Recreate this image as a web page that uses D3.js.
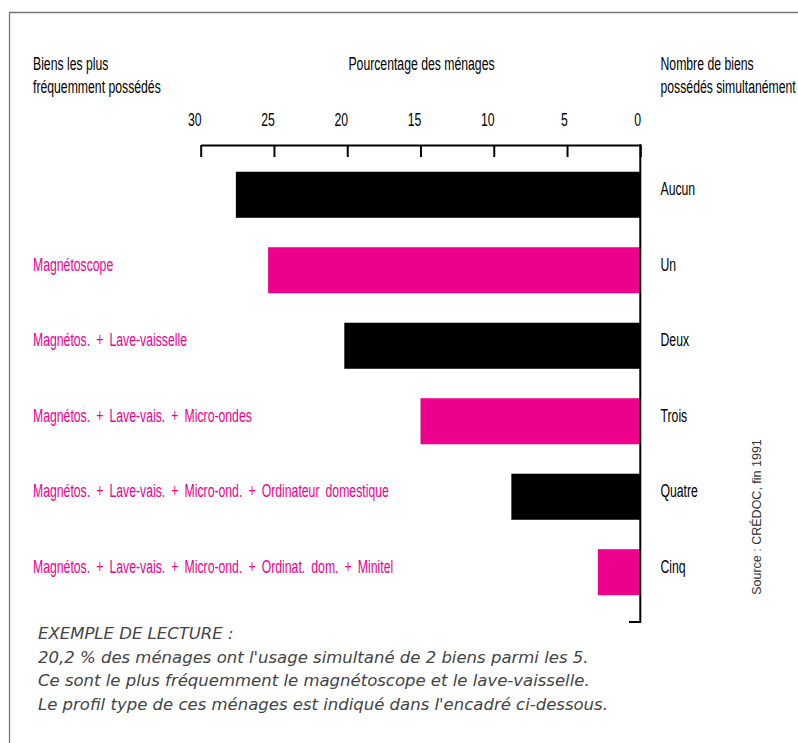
<!DOCTYPE html>
<html lang="fr">
<head>
<meta charset="utf-8">
<script src="https://cdn.jsdelivr.net/npm/d3@7"></script>
<style>
  html, body { margin: 0; padding: 0; background: #fff; }
  svg { display: block; }
  .cond { font-family: "Liberation Sans", Arial, sans-serif; font-size: 18px; }
  .goods { word-spacing: 4px; }
</style>
</head>
<body>
<svg id="chart" width="798" height="743"></svg>
<script>
// Nombre de biens possédés simultanément (parmi les 5)
const counts = ["Aucun", "Un", "Deux", "Trois", "Quatre", "Cinq"];
// Pourcentage des ménages
const shares = [27.6, 25.4, 20.2, 15.0, 8.8, 2.9];
// Biens les plus fréquemment possédés pour chaque nombre
const goods = [
  "",
  "Magnétoscope",
  "Magnétos. + Lave-vaisselle",
  "Magnétos. + Lave-vais. + Micro-ondes",
  "Magnétos. + Lave-vais. + Micro-ond. + Ordinateur domestique",
  "Magnétos. + Lave-vais. + Micro-ond. + Ordinat. dom. + Minitel"
];
const tickValues = [0, 5, 10, 15, 20, 25, 30];
const noteLines = [
  "EXEMPLE DE LECTURE :",
  "20,2 % des ménages ont l'usage simultané de 2 biens parmi les 5.",
  "Ce sont le plus fréquemment le magnétoscope et le lave-vaisselle.",
  "Le profil type de ces ménages est indiqué dans l'encadré ci-dessous."
];
const sourceText = "Source : CRÉDOC, fin 1991";

const PINK = "#ec008c";
const CONDENSE = 0.68;   // horizontal squeeze giving a condensed face

const svg = d3.select("#chart");

// frame (top and left rules)
svg.append("path")
  .attr("d", "M9.5,743 V12.5 H798")
  .attr("fill", "none")
  .attr("stroke", "#777")
  .attr("stroke-width", 1.3);

const x = d3.scaleLinear().domain([0, 30]).range([640.3, 200.7]);
const y = d3.scaleBand().domain(counts).range([134, 633])
  .paddingInner(0.39).paddingOuter(0.5);

// condensed text helper
function cText(parent, px, py, str, anchor, fill) {
  return parent.append("text")
    .attr("class", "cond")
    .attr("transform", `translate(${px},${py}) scale(${CONDENSE},1)`)
    .attr("text-anchor", anchor || "start")
    .attr("fill", fill || "#000")
    .text(str);
}

// headers
const head = svg.append("g");
cText(head, 33, 69.5, "Biens les plus");
cText(head, 33, 92.5, "fréquemment possédés");
cText(head, 421.5, 69.5, "Pourcentage des ménages", "middle");
cText(head, 660.5, 69.5, "Nombre de biens");
cText(head, 660.5, 92.5, "possédés simultanément");

// bars
svg.append("g").selectAll("rect")
  .data(counts)
  .join("rect")
  .attr("x", (d, i) => x(shares[i]))
  .attr("y", d => y(d))
  .attr("width", (d, i) => x(0) - x(shares[i]))
  .attr("height", y.bandwidth())
  .attr("fill", (d, i) => i % 2 ? PINK : "#000");

// top axis: ticks hang below the rule, labels right-aligned on the tick
const axis = d3.axisTop(x)
  .tickValues(tickValues)
  .tickSizeInner(-12)
  .tickSizeOuter(0)
  .tickPadding(19)
  .tickFormat(d3.format("d"));

const gAxis = svg.append("g")
  .attr("transform", "translate(0,145)")
  .call(axis);
gAxis.select(".domain").attr("stroke", "#000").attr("stroke-width", 2);
gAxis.selectAll(".tick line").attr("stroke", "#000").attr("stroke-width", 2);
gAxis.selectAll(".tick text")
  .attr("class", "cond")
  .attr("fill", "#000")
  .attr("text-anchor", "end")
  .attr("x", 0.5)
  .attr("transform", `scale(${CONDENSE},1)`);

// zero rule running down past the bars
svg.append("path")
  .attr("d", `M${x(0)},144 V622 H629`)
  .attr("fill", "none")
  .attr("stroke", "#000")
  .attr("stroke-width", 2);

// labels for each count: goods on the left, count on the right
const rows = svg.append("g");
counts.forEach((c, i) => {
  const cy = y(c) + y.bandwidth() / 2 + 0.5;
  cText(rows, 660.5, cy, c);
  if (goods[i]) cText(rows, 33, cy, goods[i], "start", PINK).classed("goods", true);
});

// source, rotated
svg.append("text")
  .attr("transform", "translate(761,517) rotate(-90)")
  .attr("text-anchor", "middle")
  .attr("font-family", "Liberation Sans, Arial, sans-serif")
  .attr("font-size", 12.5)
  .attr("fill", "#333")
  .text(sourceText);

// reading example
svg.append("g").selectAll("text")
  .data(noteLines)
  .join("text")
  .attr("x", 38)
  .attr("y", (d, i) => 639 + i * 23.7)
  .attr("font-family", "DejaVu Sans, sans-serif")
  .attr("font-style", "italic")
  .attr("font-size", 16.5)
  .attr("fill", "#444")
  .text(d => d);
</script>
</body>
</html>
